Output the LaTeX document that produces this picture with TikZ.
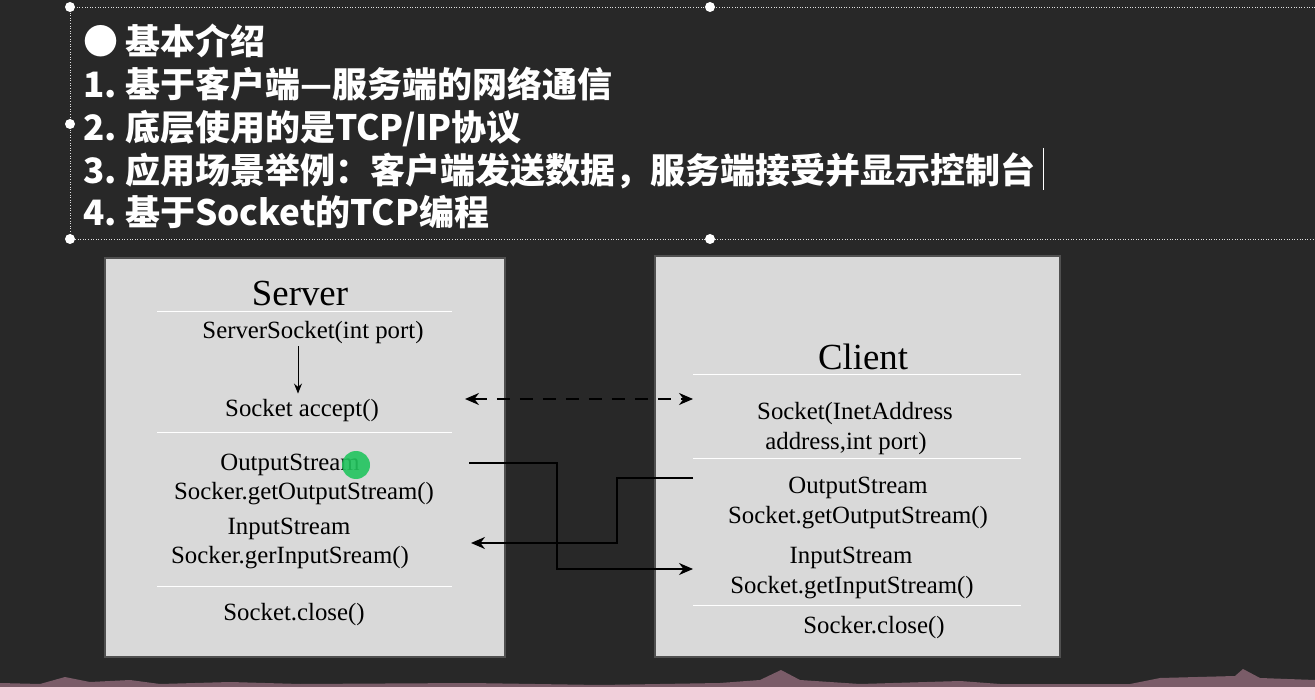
\documentclass[tikz,border=0pt]{standalone}
\usepackage{fontspec}
\setmainfont{Liberation Serif}
\newfontfamily\cjk{Noto Sans CJK SC}
\usetikzlibrary{arrows.meta}
\definecolor{board}{RGB}{40,40,40}
\definecolor{panel}{RGB}{217,217,217}
\definecolor{panelline}{RGB}{80,80,80}
\definecolor{wave}{RGB}{122,92,104}
\definecolor{band}{RGB}{241,207,218}
\definecolor{cursorgreen}{RGB}{34,197,94}

\begin{document}
\begin{tikzpicture}[x=1pt,y=-1pt,
  head/.style={anchor=base west,text=white,inner sep=0pt,
    font=\cjk\bfseries\fontsize{35}{40}\selectfont},
  txt/.style={inner sep=0pt,yshift=-3pt,font=\fontsize{24.8}{28}\selectfont},
  ttl/.style={inner sep=0pt,font=\fontsize{36.8}{40}\selectfont},
  panelbox/.style={fill=panel,draw=panelline,line width=1.5pt},
  sep/.style={white,line width=1pt},
  flow/.style={line width=1.8pt,-{Stealth[length=14pt,width=12pt]}}]
\useasboundingbox (0,0) rectangle (1315,700);
\fill[board] (0,0) rectangle (1315,700);

% header block
\draw[white!75!gray,dotted,line width=0.6pt] (1315,7) -- (70,7) -- (70,239) -- (1315,239);
\foreach \gx/\gy in {70/7,710/7,70/124,70/239,710/239}
  \fill[white] (\gx,\gy) circle (5);
\node[head] (dot) at (83,55) {●};
\node[head] (h0) at (125,55) {基本介绍};
\node[head] (n1) at (83,98) {1.};
\node[head] (h1) at (125,98) {基于客户端—服务端的网络通信};
\node[head] (n2) at (83,141) {2.};
\node[head] (h2) at (125,141) {底层使用的是TCP/IP协议};
\node[head] (n3) at (83,184) {3.};
\node[head] (h3) at (125,184) {应用场景举例：客户端发送数据，服务端接受并显示控制台};
\node[head] (n4) at (83,226) {4.};
\node[head] (h4) at (125,226) {基于Socket的TCP编程};
\draw[white,line width=1pt] (1043,148) -- (1043,190);

% server
\filldraw[panelbox] (105,258) rectangle (505,657);
\node[ttl] (srvT) at (300,293) {Server};
\draw[sep] (157,312) -- (452,312);
\node[txt] (ss) at (313,330) {ServerSocket(int port)};
\node[txt] (acc) at (302,408) {Socket accept()};
\draw[line width=1pt,-{Stealth[length=10pt,width=8pt]},shorten <=2pt,shorten >=6pt]
  ([xshift=-15pt]ss.south) -- ([xshift=-4pt]acc.north);
\draw[sep] (157,433) -- (452,433);
\node[txt] (so1) at (290,462) {OutputStream};
\node[txt] (so2) at (304,491) {Socker.getOutputStream()};
\node[txt] (si1) at (289,526) {InputStream};
\node[txt] (si2) at (290,555) {Socker.gerInputSream()};
\draw[sep] (157,586) -- (452,586);
\node[txt] (sc) at (294,612) {Socket.close()};
\fill[cursorgreen,opacity=0.9] (356,465) circle (14);

% client
\filldraw[panelbox] (655,256) rectangle (1060,657);
\node[ttl] (cliT) at (863,357) {Client};
\draw[sep] (693,375) -- (1021,375);
\node[txt] (cs1) at (855,411) {Socket(InetAddress};
\node[txt] (cs2) at (846,441) {address,int port)};
\draw[sep] (693,459) -- (1021,459);
\node[txt] (co1) at (858,485) {OutputStream};
\node[txt] (co2) at (858,515) {Socket.getOutputStream()};
\node[txt] (ci1) at (851,555) {InputStream};
\node[txt] (ci2) at (852,585) {Socket.getInputStream()};
\draw[sep] (693,605) -- (1021,605);
\node[txt] (cc) at (874,625) {Socker.close()};

% connections
\coordinate (accR) at (465,399);
\coordinate (cliS) at (693,399);
\coordinate (srvOut) at (469,463);
\coordinate (cliIn) at (693,569);
\coordinate (cliOut) at (693,478);
\coordinate (srvIn) at (471,543);
\draw[flow,{Stealth[length=14pt,width=12pt]}-{Stealth[length=14pt,width=12pt]},
  dash pattern=on 13pt off 10pt] (accR) -- (cliS);
\draw[flow] (srvOut) -- ++(88,0) |- (cliIn);
\draw[flow] (cliOut) -- ++(-76,0) |- (srvIn);

% bottom strip
\fill[wave] (0,687) -- (0,683) -- (40,684) -- (65,677) -- (90,682) -- (130,680)
  -- (160,684) -- (230,682) -- (300,684) -- (470,683) -- (600,685) -- (720,683)
  -- (760,680) -- (781,670) -- (800,680) -- (860,684) -- (960,681) -- (1000,684)
  -- (1130,684) -- (1160,678) -- (1235,676) -- (1243,669) -- (1260,678)
  -- (1315,680) -- (1315,687) -- cycle;
\fill[band] (0,687) rectangle (1315,700);
\end{tikzpicture}
\end{document}
